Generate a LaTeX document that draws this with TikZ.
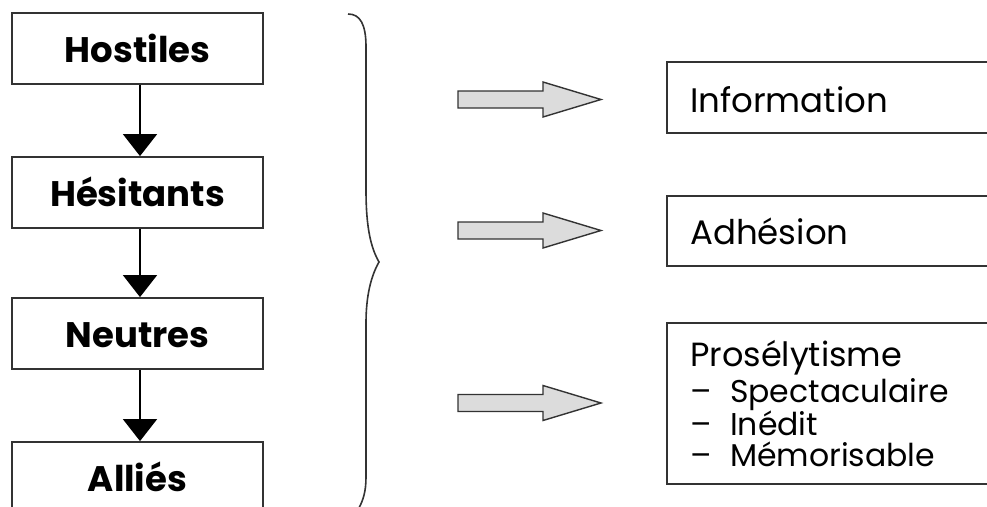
\documentclass[tikz,border=0pt]{standalone}
\usepackage{fontspec}
\setmainfont{Poppins}
\usetikzlibrary{arrows.meta}

\definecolor{edge}{HTML}{333333}
\definecolor{arrowfill}{HTML}{DCDCDC}

\tikzset{
  stagebox/.style={draw=edge, line width=1.8pt, minimum width=251pt, minimum height=71pt,
    inner sep=0pt, text height=28pt, text depth=0pt,
    font=\fontsize{35.5}{35.5}\selectfont\bfseries},
  goalbox/.style={draw=edge, line width=1.8pt, minimum width=333pt, inner sep=0pt},
  goaltext/.style={anchor=base west, inner sep=0pt, font=\fontsize{34}{34}\selectfont},
  titletext/.style={anchor=base west, inner sep=0pt, font=\fontsize{33.5}{33.5}\selectfont},
  itemtext/.style={anchor=base west, inner sep=0pt, font=\fontsize{31.5}{31.5}\selectfont},
  flow/.style={draw=black, line width=1.6pt, -{Triangle[width=34pt,length=22pt]}},
  fatarrowstyle/.style={draw=edge, fill=arrowfill, line width=1.4pt, line join=miter},
  bracestyle/.style={draw=edge, line width=1.6pt},
  fatarrow/.pic={
    \draw[fatarrowstyle] (0,-8.5) -- (85,-8.5) -- (85,-17.5) -- (143,0)
      -- (85,17.5) -- (85,8.5) -- (0,8.5) -- cycle;
  }
}

\begin{document}
\begin{tikzpicture}[x=1pt,y=-1pt]
\useasboundingbox (0,0) rectangle (987,506);
\clip (0,0) rectangle (987,506);

% audience stages
\node[stagebox] (hostiles)  at (137.5,48.5)  {Hostiles};
\node[stagebox] (hesitants) at (137.5,192.5) {Hésitants};
\node[stagebox] (neutres)   at (137.5,333.5) {Neutres};
\node[stagebox] (allies)    at (137.5,477.5) {Alliés};

\draw[flow] ([xshift=2.5pt]hostiles.south)  -- ([xshift=2.5pt]hesitants.north);
\draw[flow] ([xshift=2.5pt]hesitants.south) -- ([xshift=2.5pt]neutres.north);
\draw[flow] ([xshift=2.5pt]neutres.south)   -- ([xshift=2.5pt]allies.north);

% brace grouping the stages
\draw[bracestyle] (348,14) .. controls (360,14) and (366,24) .. (366,47)
  -- (366,190) .. controls (366,228) and (371,248) .. (379,262)
  .. controls (371,276) and (366,296) .. (366,323)
  -- (366,477) .. controls (366,492) and (363,500) .. (359,508);

% block arrows
\pic (arrowinfo) at (458,99.5) {fatarrow};
\pic (arrowadh)  at (458,230.5) {fatarrow};
\pic (arrowpros) at (458,403) {fatarrow};

% goals
\node[goalbox, minimum height=71pt]  (information)  at (833.5,97.5) {};
\node[goalbox, minimum height=70pt]  (adhesion)     at (833.5,231) {};
\node[goalbox, minimum height=161pt] (proselytisme) at (833.5,403.5) {};

\node[goaltext]  (infolabel) at (690,112) {Information};
\node[goaltext]  (adhlabel)  at (690,244) {Adhésion};
\node[titletext] (proslabel) at (690,366) {Prosélytisme};
\node[itemtext]  (item1) at (690,402) {\makebox[40pt][l]{–}Spectaculaire};
\node[itemtext]  (item2) at (690,435) {\makebox[40pt][l]{–}Inédit};
\node[itemtext]  (item3) at (690,466) {\makebox[40pt][l]{–}Mémorisable};
\end{tikzpicture}
\end{document}
